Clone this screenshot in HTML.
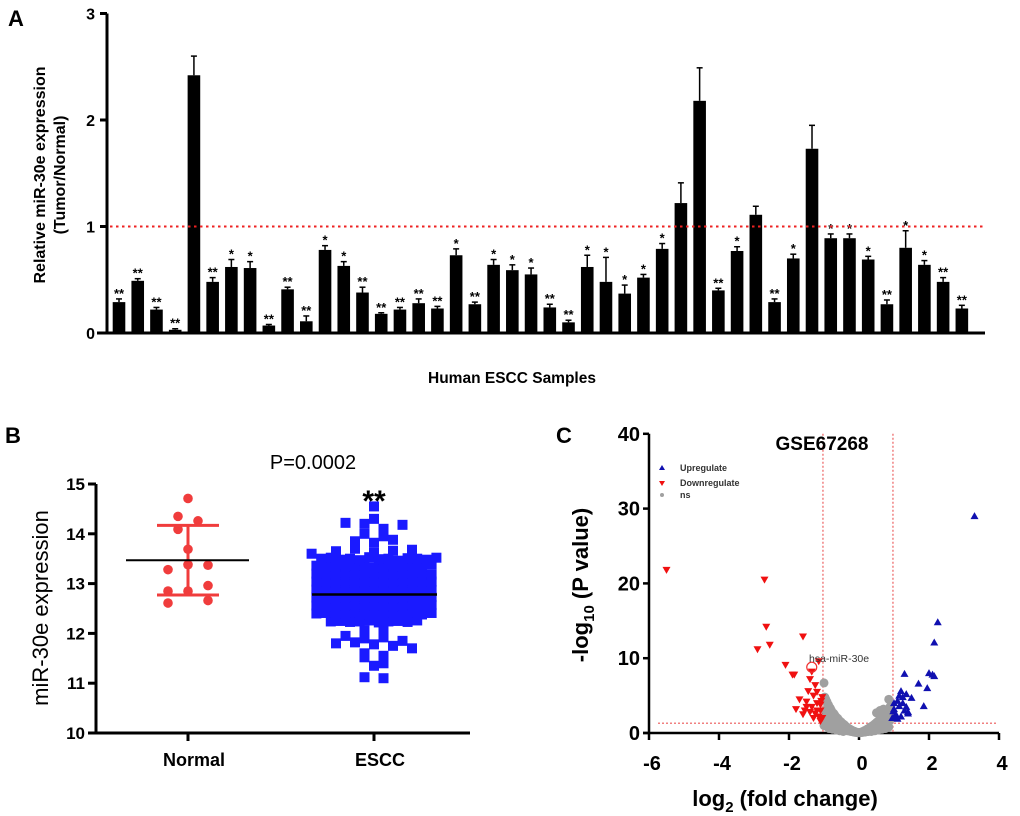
<!DOCTYPE html>
<html><head><meta charset="utf-8"><style>
body{margin:0;background:#fff;}
svg{display:block;font-family:"Liberation Sans",Arial,sans-serif;}
</style></head><body>
<svg id="fig" width="1020" height="816" viewBox="0 0 1020 816">
<g id="pa"></g>
<g id="pb"></g>
<g id="pc"></g>
</svg>
<script>
// Panel A data
const aValues=[0.29,0.49,0.22,0.03,2.42,0.48,0.62,0.61,0.07,0.41,0.11,0.78,0.63,0.38,0.18,0.22,0.28,0.23,0.73,0.27,0.64,0.59,0.55,0.24,0.10,0.62,0.48,0.37,0.52,0.79,1.22,2.18,0.40,0.77,1.11,0.29,0.70,1.73,0.89,0.89,0.69,0.27,0.80,0.64,0.48,0.23];
const aErrors=[0.03,0.02,0.02,0.01,0.18,0.04,0.07,0.06,0.01,0.02,0.05,0.04,0.04,0.05,0.01,0.02,0.04,0.02,0.06,0.02,0.05,0.05,0.06,0.03,0.02,0.11,0.23,0.08,0.03,0.05,0.19,0.31,0.02,0.04,0.08,0.03,0.04,0.22,0.04,0.04,0.03,0.04,0.16,0.04,0.04,0.03];
const aStars=["**","**","**","**","","**","*","*","**","**","**","*","*","**","**","**","**","**","*","**","*","*","*","**","**","*","*","*","*","*","","","**","*","","**","*","","*","*","*","**","*","*","**","**"];
const aTicks=[0,1,2,3];
// Panel B data
const bNormal=[14.71,14.35,14.26,14.09,13.69,13.28,13.38,13.37,12.96,12.85,12.85,12.61,12.66];
const bNormalOff=[0,-1,1,-1,0,-2,0,2,2,-2,0,-2,2];
const bNormalMean=13.47, bNormalSDlo=12.77, bNormalSDhi=14.17;
const bEscc=[14.55,14.3,14.22,14.2,14.1,14.18,14.0,13.95,13.85,13.82,13.88,13.65,13.7,13.62,13.6,13.66,13.68,
13.5,13.52,13.48,13.5,13.47,13.53,13.49,13.5,13.46,13.51,13.5,13.48,13.52,
13.36,13.35,13.38,13.34,13.37,13.36,13.33,13.39,13.35,13.36,13.37,13.34,13.38,
13.2,13.21,13.19,13.22,13.18,13.2,13.23,13.2,13.19,13.21,13.2,13.22,13.18,
13.04,13.05,13.03,13.06,13.02,13.04,13.05,13.03,13.04,13.06,13.02,13.05,13.04,
12.88,12.87,12.89,12.9,12.86,12.88,12.87,12.89,12.88,12.9,12.86,12.88,12.87,
12.72,12.71,12.73,12.72,12.74,12.7,12.72,12.73,12.71,12.72,12.74,12.7,12.73,
12.56,12.55,12.57,12.56,12.58,12.54,12.56,12.57,12.55,12.56,12.58,12.54,12.57,
12.4,12.41,12.39,12.4,12.42,12.38,12.4,12.41,12.39,12.4,12.42,12.38,12.41,
12.24,12.25,12.23,12.24,12.26,12.22,12.24,12.25,12.23,12.26,
12.06,12.05,11.95,11.9,11.92,11.85,11.8,11.82,11.78,11.75,11.7,11.6,11.55,11.52,11.4,11.35,11.12,11.1];
const bEsccMean=12.78;
const bTicks=[10,11,12,13,14,15];
const bCats=["Normal","ESCC"];
// Panel C data
const upX=[3.3,2.25,2.15,2.0,2.1,2.15,1.3,1.7,1.95,1.2,1.35,1.5,1.85,1.1,1.25,1.35,1.0,1.05,1.4,1.2,0.95,1.1,1.3,1.15,1.0,1.05,1.25,1.4,1.15,0.98];
const upY=[29,14.8,12.1,8.0,7.8,7.6,7.9,6.6,6.0,5.6,5.2,4.7,3.6,4.3,4.0,3.5,3.2,2.5,2.8,2.2,2.0,1.9,3.0,3.6,4.0,2.2,4.8,2.6,5.0,2.9];
const dnX=[-5.5,-2.7,-2.65,-2.9,-2.55,-1.6,-2.1,-1.9,-1.85,-1.15,-1.35,-1.4,-1.25,-1.45,-1.3,-1.7,-1.2,-1.5,-1.1,-1.8,-1.4,-1.15,-1.6,-1.3,-1.1,-1.05,-1.1,-1.2,-1.5,-1.35,-1.25,-1.05,-1.55,-1.2,-1.08];
const dnY=[21.8,20.5,14.2,11.2,11.8,12.9,9.1,7.8,7.8,9.6,8.2,7.2,6.4,5.6,5.0,4.5,4.0,3.5,3.0,3.2,2.8,2.2,2.5,2.0,1.6,4.8,3.8,5.5,4.2,3.5,2.6,2.0,3.0,3.0,4.3];
const nsX=[-1.0,-0.98,-0.95,-0.92,-0.9,-0.88,-0.85,-0.82,-0.8,-0.78,-0.75,-0.72,-0.7,-0.68,-0.65,-0.62,-0.6,-0.58,-0.55,-0.52,-0.5,-0.48,-0.45,-0.42,-0.4,-0.38,-0.35,-0.32,-0.3,-0.28,-0.25,-0.22,-0.2,-0.18,-0.15,-0.12,-0.1,-0.08,-0.05,-0.02,0.0,0.03,0.05,0.08,0.1,0.13,0.15,0.18,0.2,0.23,0.25,0.28,0.3,0.33,0.35,0.38,0.4,0.43,0.45,0.48,0.5,0.53,0.55,0.58,0.6,0.63,0.65,0.68,0.7,0.73,0.75,0.78,0.8,0.83,0.85,0.88,0.9,-0.97,-0.93,-0.87,-0.83,-0.77,-0.73,-0.67,-0.63,-0.57,-0.53,-0.47,-0.43,-0.37,-0.33,-0.27,-0.23,-0.17,-0.13,-0.07,0.07,0.12,0.17,0.22,0.27,0.32,0.37,0.42,0.47,0.52,0.57,0.62,0.67,0.72,0.77,0.82,0.87,-1.0,0.85,-0.96,-0.9,-0.8,-0.7,-0.6,0.5,0.6,0.7,0.8,0.9,-0.95,-0.9,-0.85,-0.75,-0.65,-0.55,-0.45,0.35,0.45,0.55,0.65,0.75,0.85];
const nsY=[6.7,4.8,4.5,4.2,3.9,3.8,3.5,3.3,3.1,2.9,2.7,2.6,2.4,2.3,2.1,2.0,1.9,1.7,1.6,1.5,1.4,1.3,1.2,1.1,1.0,0.9,0.8,0.7,0.6,0.55,0.5,0.4,0.35,0.3,0.25,0.2,0.15,0.1,0.08,0.05,0.03,0.05,0.08,0.12,0.18,0.22,0.3,0.35,0.4,0.5,0.55,0.6,0.7,0.8,0.85,0.95,1.0,1.1,1.2,1.3,1.4,1.5,1.6,1.7,1.8,1.9,2.0,2.2,2.3,2.4,2.6,2.7,2.9,3.0,3.2,3.4,3.6,2.0,1.5,1.8,1.2,1.5,0.9,1.0,0.7,0.8,0.5,0.6,0.4,0.4,0.3,0.25,0.2,0.15,0.1,0.06,0.06,0.1,0.12,0.18,0.2,0.3,0.35,0.4,0.5,0.6,0.7,0.8,0.9,1.0,1.2,1.4,1.6,1.0,4.5,3.0,2.5,2.1,1.8,1.1,2.7,3.0,3.2,1.5,2.0,1.0,0.8,0.6,0.5,0.4,0.3,0.2,0.2,0.3,0.4,0.5,0.6,0.8];
const cXTicks=[-6,-4,-2,0,2,4];
const cYTicks=[0,10,20,30,40];

const NS="http://www.w3.org/2000/svg";
function mk(parent,tag,attrs,text){const e=document.createElementNS(NS,tag);for(const k in attrs)e.setAttribute(k,attrs[k]);if(text!==undefined)e.textContent=text;parent.appendChild(e);return e;}

// ---------- Panel A ----------
(function(){
const g=document.getElementById('pa');
const ay=v=>333-v*106.5, ax=i=>119+i*18.73;
let t=mk(g,'text',{x:8,y:26,'font-size':22,'font-weight':'bold'},'A');

let yt=mk(g,'text',{transform:'translate(45,175) rotate(-90)','text-anchor':'middle','font-size':16,'font-weight':'bold'},'Relative miR-30e expression');

let yt2=mk(g,'text',{transform:'translate(65,175) rotate(-90)','text-anchor':'middle','font-size':16,'font-weight':'bold'},'(Tumor/Normal)');

let yax=mk(g,'line',{x1:107,y1:ay(3),x2:107,y2:ay(0),stroke:'#000','stroke-width':3});

aTicks.forEach(v=>{
 let l=mk(g,'line',{x1:100,y1:ay(v),x2:107,y2:ay(v),stroke:'#000','stroke-width':3});
 
 let tx=mk(g,'text',{x:95,y:ay(v)+6,'text-anchor':'end','font-size':16,'font-weight':'bold'},String(v));
 
});
aValues.forEach((v,i)=>{
 const cx=ax(i), top=ay(v), et=ay(v+aErrors[i]);
 let el=mk(g,'line',{x1:cx,y1:top,x2:cx,y2:et,stroke:'#000','stroke-width':1.5});
 
 let cap=mk(g,'line',{x1:cx-3,y1:et,x2:cx+3,y2:et,stroke:'#000','stroke-width':1.5});
 
 let r=mk(g,'rect',{x:cx-6.3,y:top,width:12.6,height:ay(0)-top,fill:'#000'});
 
 if(aStars[i]){let s=mk(g,'text',{x:cx,y:et-1,'text-anchor':'middle','font-size':13,'font-weight':'bold'},aStars[i]);
 }
});
let ref=mk(g,'line',{x1:110,y1:ay(1),x2:985,y2:ay(1),stroke:'#e22','stroke-width':2,'stroke-dasharray':'2.5 3.5'});

let xax=mk(g,'line',{x1:97,y1:ay(0),x2:985,y2:ay(0),stroke:'#000','stroke-width':3});

let xt=mk(g,'text',{x:512,y:383,'text-anchor':'middle','font-size':15.5,'font-weight':'bold'},'Human ESCC Samples');

})();

// ---------- Panel B ----------
(function(){
const g=document.getElementById('pb');
const by=v=>733-(v-10)*49.8;
const cx=[188,374];
let t=mk(g,'text',{x:5,y:443,'font-size':22,'font-weight':'bold'},'B');

let yt=mk(g,'text',{transform:'translate(48,608) rotate(-90)','text-anchor':'middle','font-size':22},'miR-30e expression');

let yax=mk(g,'line',{x1:96,y1:by(15),x2:96,y2:by(10)+1,stroke:'#000','stroke-width':3});

let xax=mk(g,'line',{x1:88,y1:by(10),x2:470,y2:by(10),stroke:'#000','stroke-width':3});

bTicks.forEach(v=>{
 let l=mk(g,'line',{x1:88,y1:by(v),x2:96,y2:by(v),stroke:'#000','stroke-width':3});
 
 let tx=mk(g,'text',{x:85,y:by(v)+6,'text-anchor':'end','font-size':17,'font-weight':'bold'},String(v));
 
});
bCats.forEach((c,i)=>{
 let l=mk(g,'line',{x1:cx[i],y1:by(10),x2:cx[i],y2:by(10)+8,stroke:'#000','stroke-width':3});
 
 let tx=mk(g,'text',{x:cx[i]+6,y:766,'text-anchor':'middle','font-size':18,'font-weight':'bold'},c);
 
});
// ESCC swarm
const bins={};
bEscc.forEach(v=>{const b=Math.round((v-10)/0.16);(bins[b]=bins[b]||[]).push(v);});
Object.keys(bins).forEach(b=>{
 const arr=bins[b];const n=arr.length;
 const sp=n<=5?19:9.6;
 arr.forEach((v,k)=>{
  const off=(k-(n-1)/2)*sp;
  let r=mk(g,'rect',{x:cx[1]+off-5,y:by(v)-5,width:10,height:10,fill:'#1a1aff'});
  
 });
});
let m2=mk(g,'line',{x1:312,y1:by(bEsccMean),x2:437,y2:by(bEsccMean),stroke:'#000','stroke-width':2.5});

// Normal
const red='#f03c3c';
let sd=mk(g,'line',{x1:cx[0],y1:by(bNormalSDlo),x2:cx[0],y2:by(bNormalSDhi),stroke:red,'stroke-width':3});

[bNormalSDlo,bNormalSDhi].forEach(v=>{let c=mk(g,'line',{x1:cx[0]-31,y1:by(v),x2:cx[0]+31,y2:by(v),stroke:red,'stroke-width':3});
 });
bNormal.forEach((v,i)=>{
 let c=mk(g,'circle',{cx:cx[0]+bNormalOff[i]*10,cy:by(v),r:4.8,fill:red});
 
});
let m1=mk(g,'line',{x1:126,y1:by(bNormalMean),x2:249,y2:by(bNormalMean),stroke:'#000','stroke-width':2});

let p=mk(g,'text',{x:313,y:469,'text-anchor':'middle','font-size':20},'P=0.0002');

let st=mk(g,'text',{x:374,y:511,'text-anchor':'middle','font-size':30,'font-weight':'bold'},'**');

})();

// ---------- Panel C ----------
(function(){
const g=document.getElementById('pc');
const cxs=v=>859+v*35, cys=v=>733-v*7.48;
let t=mk(g,'text',{x:556,y:443,'font-size':22,'font-weight':'bold'},'C');

let yt=mk(g,'text',{transform:'translate(588,585) rotate(-90)','text-anchor':'middle','font-size':22,'font-weight':'bold'});

mk(yt,'tspan',{},'-log');mk(yt,'tspan',{'font-size':15,dy:6},'10');mk(yt,'tspan',{dy:-6},' (P value)');
let xt=mk(g,'text',{x:785,y:806,'text-anchor':'middle','font-size':22,'font-weight':'bold'});

mk(xt,'tspan',{},'log');mk(xt,'tspan',{'font-size':15,dy:6},'2');mk(xt,'tspan',{dy:-6},' (fold change)');
let yax=mk(g,'line',{x1:649,y1:cys(40),x2:649,y2:cys(0),stroke:'#000','stroke-width':2.5});

let xax=mk(g,'line',{x1:643,y1:cys(0),x2:999,y2:cys(0),stroke:'#000','stroke-width':2.5});

cYTicks.forEach(v=>{
 let l=mk(g,'line',{x1:643,y1:cys(v),x2:649,y2:cys(v),stroke:'#000','stroke-width':2.5});
 
 let tx=mk(g,'text',{x:640,y:cys(v)+7,'text-anchor':'end','font-size':20,'font-weight':'bold'},String(v));
 
});
cXTicks.forEach(v=>{
 let l=mk(g,'line',{x1:cxs(v),y1:cys(0),x2:cxs(v),y2:cys(0)+7,stroke:'#000','stroke-width':2.5});
 
 let tx=mk(g,'text',{x:cxs(v)+3,y:770,'text-anchor':'middle','font-size':20,'font-weight':'bold'},String(v));
 
});
const dash={stroke:'#f08080','stroke-width':1.5,'stroke-dasharray':'2 2'};
let v1=mk(g,'line',Object.assign({x1:cxs(-1.03),y1:cys(40),x2:cxs(-1.03),y2:cys(0)},dash));

let v2=mk(g,'line',Object.assign({x1:cxs(0.97),y1:cys(40),x2:cxs(0.97),y2:cys(0)},dash));

let h1=mk(g,'line',Object.assign({x1:658,y1:cys(1.3),x2:997,y2:cys(1.3)},dash));

nsX.forEach((x,i)=>{let c=mk(g,'circle',{cx:cxs(x),cy:cys(nsY[i]),r:4.5,fill:'#a0a0a0'});
 });
dnX.forEach((x,i)=>{const px=cxs(x),py=cys(dnY[i]);
 let p=mk(g,'polygon',{points:`${px-4},${py-3} ${px+4},${py-3} ${px},${py+4}`,fill:'#f01010'});
 });
upX.forEach((x,i)=>{const px=cxs(x),py=cys(upY[i]);
 let p=mk(g,'polygon',{points:`${px-4},${py+3} ${px+4},${py+3} ${px},${py-4}`,fill:'#1010b0'});
 });
let hc=mk(g,'circle',{cx:cxs(-1.35),cy:cys(8.8),r:5,fill:'none',stroke:'#f03030','stroke-width':1.2});

let hl=mk(g,'text',{x:809,y:662,'font-size':10.5,fill:'#333'},'hsa-miR-30e');

let ti=mk(g,'text',{x:822,y:450,'text-anchor':'middle','font-size':19,'font-weight':'bold'},'GSE67268');

// legend
let lg=mk(g,'g',{});
let a1=mk(lg,'polygon',{points:'659,470 665,470 662,465',fill:'#1010b0'});
let a2=mk(lg,'polygon',{points:'659,481 665,481 662,486',fill:'#f01010'});
let a3=mk(lg,'circle',{cx:662,cy:495,r:2,fill:'#a0a0a0'});
[['Upregulate',471],['Downregulate',486],['ns',498]].forEach(([s,y])=>{
 let e=mk(lg,'text',{x:680,y:y,'font-size':9,'font-weight':'bold',fill:'#333'},s);
 });
})();
</script>
</body></html>
